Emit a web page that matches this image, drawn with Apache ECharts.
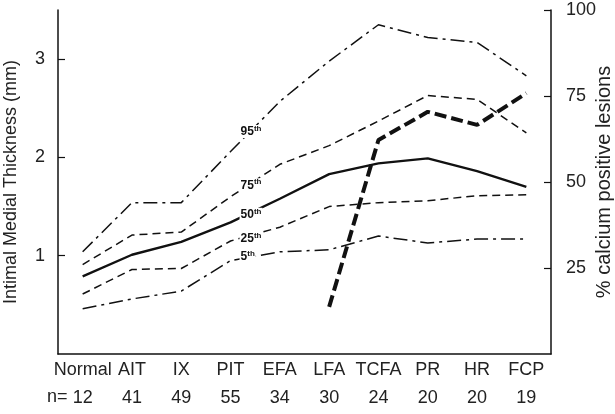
<!DOCTYPE html>
<html>
<head>
<meta charset="utf-8">
<script src="https://cdn.jsdelivr.net/npm/echarts@6/dist/echarts.min.js"></script>
<style>
html,body{margin:0;padding:0;background:#fff;}
#chart{width:615px;height:414px;}
</style>
</head>
<body>
<div id="chart"></div>
<script>
const categories = ['Normal','AIT','IX','PIT','EFA','LFA','TCFA','PR','HR','FCP'];
const nCounts = [12,41,49,55,34,30,24,20,20,19];
const p95 = [1.04,1.54,1.54,2.06,2.57,2.98,3.35,3.22,3.17,2.83];
const p75 = [0.91,1.21,1.24,1.60,1.93,2.12,2.37,2.63,2.59,2.25];
const p50 = [0.79,1.01,1.14,1.34,1.58,1.83,1.94,1.99,1.86,1.70];
const p25 = [0.61,0.86,0.87,1.15,1.29,1.50,1.54,1.56,1.61,1.62];
const p5  = [0.46,0.56,0.64,0.95,1.04,1.06,1.20,1.13,1.17,1.17];
const calcium = [null,null,null,null,null,13.7,62.2,70.4,66.6,75.8];
const leftTicks = [1,2,3];
const rightTicks = [25,50,75,100];
const pctNames = ['95','75','50','25','5'];

const FONT = "'Liberation Sans', Arial, sans-serif";
const INK = '#111';
const labelIndex = 3; // PIT
const labelOffsets = [-20,-12,-8,-3,-4];

function withLabel(arr, idx, name, dy) {
  return arr.map((v, i) => {
    if (i !== idx) return v;
    return {
      value: v,
      label: {
        show: true,
        position: 'right',
        distance: 9,
        offset: [0, dy],
        formatter: '{a|' + name + '}{b|th}',
        backgroundColor: '#fff',
        padding: [0, 1, 0, 1],
        rich: {
          a: {fontFamily: FONT, fontSize: 12, fontWeight: 'bold', color: INK, lineHeight: 13, verticalAlign: 'bottom'},
          b: {fontFamily: FONT, fontSize: 8, fontWeight: 'bold', color: INK, lineHeight: 13, verticalAlign: 'top'}
        }
      }
    };
  });
}

const dashDot = [14,5,3,5];
const dashed = [8,5];

const chart = echarts.init(document.getElementById('chart'));
chart.setOption({
  animation: false,
  backgroundColor: '#fff',
  grid: {left: 58, right: 64, top: 10, bottom: 60, containLabel: false, outerBoundsMode: 'none'},
  xAxis: {
    type: 'category',
    data: categories,
    boundaryGap: true,
    axisLine: {lineStyle: {color: INK, width: 1.5}},
    axisTick: {inside: true, alignWithLabel: true, length: 9, lineStyle: {color: INK, width: 1.2}},
    axisLabel: {
      interval: 0,
      margin: 2,
      fontFamily: FONT,
      fontSize: 18,
      color: '#222',
      lineHeight: 28,
      formatter: (v, i) => v + '\n' + nCounts[i]
    }
  },
  yAxis: [{
    type: 'value',
    min: 0, max: 3.5,
    splitLine: {show: false},
    axisLine: {show: true, lineStyle: {color: INK, width: 1.5}},
    axisTick: {show: true, inside: true, length: 7, customValues: leftTicks, lineStyle: {color: INK, width: 1.2}},
    axisLabel: {customValues: leftTicks, margin: 13, fontFamily: FONT, fontSize: 18, color: '#222'},
    name: 'Intimal Medial Thickness (mm)',
    nameLocation: 'middle',
    nameGap: 38,
    nameTextStyle: {fontFamily: FONT, fontSize: 18, color: '#222'}
  }, {
    type: 'value',
    min: 0, max: 100,
    position: 'right',
    splitLine: {show: false},
    axisLine: {show: true, lineStyle: {color: INK, width: 1.5}},
    axisTick: {show: true, inside: true, length: 7, customValues: rightTicks, lineStyle: {color: INK, width: 1.2}},
    axisLabel: {customValues: rightTicks, margin: 15, fontFamily: FONT, fontSize: 18, color: '#222'},
    name: '% calcium positive lesions',
    nameLocation: 'middle',
    nameGap: 43,
    nameRotate: 90,
    nameMoveOverlap: false,
    nameTextStyle: {fontFamily: FONT, fontSize: 20, color: '#222'}
  }],
  graphic: [{
    type: 'text',
    left: 47,
    top: 388,
    style: {text: 'n=', font: '18px ' + FONT, fill: '#222'}
  }],
  series: [
    {name: '95th', type: 'line', yAxisIndex: 0, data: withLabel(p95, labelIndex, pctNames[0], labelOffsets[0]),
     symbol: 'circle', symbolSize: 0, lineStyle: {color: INK, width: 1.5, type: dashDot, cap: 'butt'}, z: 2},
    {name: '75th', type: 'line', yAxisIndex: 0, data: withLabel(p75, labelIndex, pctNames[1], labelOffsets[1]),
     symbol: 'circle', symbolSize: 0, lineStyle: {color: INK, width: 1.5, type: dashed, cap: 'butt'}, z: 2},
    {name: '50th', type: 'line', yAxisIndex: 0, data: withLabel(p50, labelIndex, pctNames[2], labelOffsets[2]),
     symbol: 'circle', symbolSize: 0, lineStyle: {color: INK, width: 2.4, type: 'solid'}, z: 2},
    {name: '25th', type: 'line', yAxisIndex: 0, data: withLabel(p25, labelIndex, pctNames[3], labelOffsets[3]),
     symbol: 'circle', symbolSize: 0, lineStyle: {color: INK, width: 1.5, type: dashed, cap: 'butt'}, z: 2},
    {name: '5th', type: 'line', yAxisIndex: 0, data: withLabel(p5, labelIndex, pctNames[4], labelOffsets[4]),
     symbol: 'circle', symbolSize: 0, lineStyle: {color: INK, width: 1.5, type: dashDot, cap: 'butt'}, z: 2},
    {name: 'calcium', type: 'line', yAxisIndex: 1, data: calcium, connectNulls: false,
     symbol: 'none', lineStyle: {color: INK, width: 4, type: [12,5], cap: 'butt'}, z: 3}
  ]
});
</script>
</body>
</html>
